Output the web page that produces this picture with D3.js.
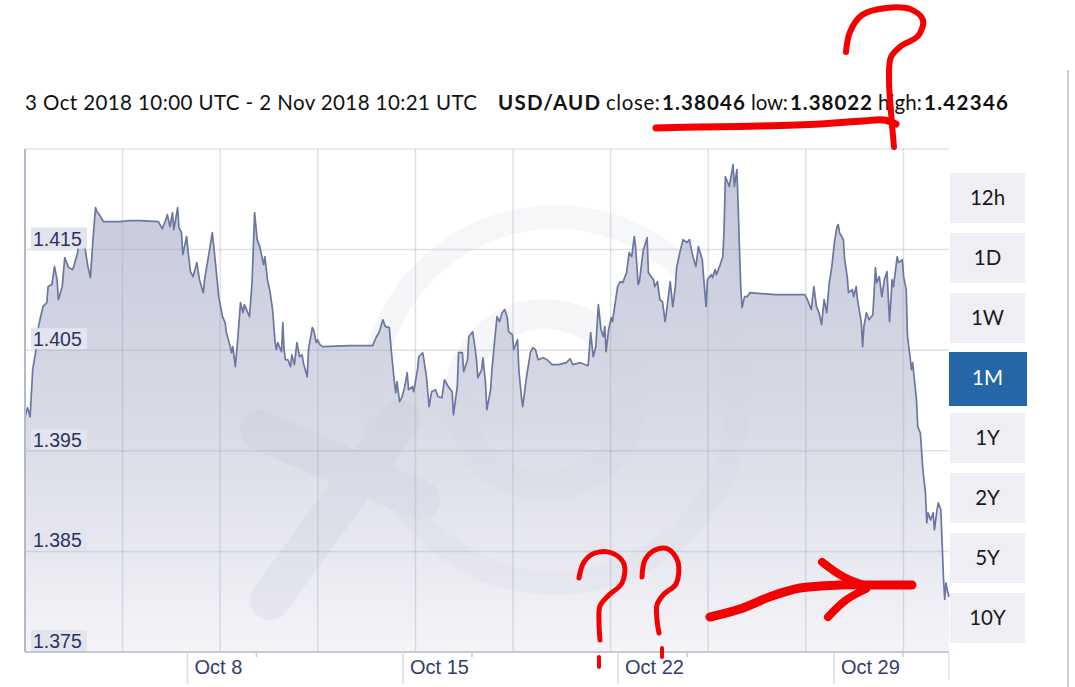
<!DOCTYPE html>
<html><head><meta charset="utf-8">
<script src="https://cdn.jsdelivr.net/npm/d3@7"></script>
<style>html,body{margin:0;padding:0;background:#fff;} svg{display:block;}</style>
</head><body>
<svg id="chart" width="1075" height="687"></svg>
<script>
// ---------- DATA ----------
const startUTC = "2018-10-03T10:00:00Z";
const endUTC = "2018-11-02T10:21:00Z";
const pairLabel = "USD/AUD";
const closeValue = "1.38046", lowValue = "1.38022", highValue = "1.42346";
const rangeLabel = "3 Oct 2018 10:00 UTC - 2 Nov 2018 10:21 UTC";

// hours elapsed since startUTC
const hoursFromStart = [0,1,2,4,6,9,10,12,14,17,18,21,23,25,26,29,31,34,37,38,41,42,44,47,49,51,53,55,56,58,61,74,82,90,104,107,109,111,113,115,116,119,120,122,123,126,127,129,131,134,136,139,140,143,146,147,150,151,154,156,157,160,161,162,164,166,168,170,171,175,177,179,181,183,186,187,189,191,193,195,196,197,200,201,202,203,205,207,208,210,212,214,216,217,220,221,224,225,227,228,230,232,253,271,274,276,279,281,284,286,288,289,290,292,294,296,298,299,302,303,306,307,310,311,313,315,317,320,322,325,327,330,333,334,337,338,341,342,345,346,349,351,352,353,356,357,359,360,363,364,366,368,370,372,374,376,377,380,381,384,385,387,388,391,394,396,398,400,404,407,411,416,422,425,427,433,439,441,443,445,447,449,451,452,453,455,457,458,462,464,466,469,471,473,475,476,478,479,482,483,485,486,490,491,493,495,497,499,500,503,505,507,508,511,513,516,518,520,521,523,525,528,529,531,532,535,536,538,539,542,544,545,546,549,551,552,553,555,556,557,558,559,561,563,565,585,608,610,613,615,617,619,621,623,625,627,629,631,633,634,635,638,639,641,642,645,646,648,649,652,653,654,656,658,661,663,664,666,668,670,672,674,676,677,680,681,684,685,687,688,690,691,692,695,696,698,700,702,703,704,706,708,709,711,712,714,716,717,718,719,720.35];
const rates = [1.39828,1.39888,1.39928,1.39838,1.40306,1.40535,1.40704,1.40823,1.40933,1.40973,1.41132,1.41152,1.41331,1.41201,1.41002,1.41132,1.4142,1.41321,1.41301,1.41331,1.4147,1.4158,1.41599,1.415,1.41331,1.41221,1.41599,1.41918,1.41878,1.41848,1.41779,1.41779,1.41789,1.41789,1.41779,1.41709,1.41769,1.41848,1.41729,1.41868,1.41699,1.41918,1.41719,1.41669,1.4145,1.41629,1.415,1.41281,1.41231,1.41371,1.41201,1.41072,1.41201,1.4143,1.41669,1.4155,1.41172,1.41032,1.40833,1.40774,1.40674,1.40535,1.40475,1.40535,1.40336,1.40634,1.40973,1.40873,1.40953,1.40833,1.41172,1.41868,1.41599,1.4153,1.41351,1.4143,1.41201,1.41082,1.40903,1.40575,1.40505,1.40575,1.40485,1.40774,1.40505,1.40405,1.40405,1.40336,1.40455,1.40356,1.40575,1.40435,1.40455,1.40376,1.40236,1.40505,1.40724,1.40704,1.40575,1.40604,1.40555,1.40535,1.40545,1.40545,1.40634,1.40674,1.40803,1.40734,1.40724,1.40435,1.40177,1.40077,1.40187,1.39988,1.40037,1.40137,1.40276,1.40107,1.40137,1.40087,1.40306,1.40435,1.40475,1.40405,1.40236,1.39938,1.40087,1.40107,1.40037,1.40027,1.40206,1.40137,1.40087,1.39858,1.40137,1.40475,1.40475,1.40286,1.40405,1.40634,1.40684,1.40505,1.40405,1.40226,1.40306,1.40425,1.40177,1.39908,1.40107,1.40306,1.40575,1.40833,1.40784,1.40873,1.40903,1.40823,1.40684,1.40654,1.40505,1.40604,1.40306,1.40037,1.39938,1.40236,1.40475,1.40525,1.40505,1.40405,1.40425,1.40405,1.40356,1.40356,1.40376,1.40415,1.40356,1.40376,1.40346,1.40674,1.40435,1.40535,1.40953,1.40704,1.40634,1.40734,1.40485,1.40704,1.40823,1.40784,1.41132,1.41182,1.41172,1.41271,1.4147,1.4143,1.41629,1.4153,1.41152,1.41182,1.415,1.4153,1.41619,1.41271,1.41201,1.41132,1.41182,1.41002,1.40983,1.40784,1.40873,1.41182,1.40933,1.41132,1.41321,1.415,1.41599,1.4157,1.41599,1.4147,1.4142,1.41331,1.4153,1.414,1.41231,1.40933,1.41201,1.41251,1.41221,1.41301,1.41251,1.41351,1.4143,1.41699,1.42226,1.42127,1.42266,1.42346,1.42127,1.42296,1.41928,1.415,1.41132,1.40923,1.41032,1.41032,1.41072,1.41052,1.41052,1.41002,1.40903,1.41132,1.40933,1.40873,1.40754,1.41002,1.40873,1.41172,1.41331,1.4157,1.41729,1.41749,1.41669,1.41599,1.414,1.41231,1.41072,1.41102,1.41032,1.41132,1.41002,1.40774,1.40535,1.40734,1.40873,1.40803,1.40853,1.41321,1.41172,1.41231,1.41032,1.41201,1.41281,1.40784,1.41201,1.41132,1.4143,1.41371,1.414,1.41231,1.41102,1.40634,1.40435,1.40306,1.40376,1.40007,1.39739,1.39679,1.39311,1.39082,1.38784,1.38883,1.38813,1.38883,1.38714,1.38913,1.38983,1.38913,1.38246,1.38022,1.38187,1.38117,1.38046];

const yTickValues = [1.375, 1.385, 1.395, 1.405, 1.415];
const yTickLabels = ["1.375", "1.385", "1.395", "1.405", "1.415"];
const yGridValues = [1.385, 1.395, 1.405, 1.415];
const xTickDates = ["2018-10-08T16:40:00Z", "2018-10-15T16:40:00Z", "2018-10-22T16:20:00Z", "2018-10-29T16:40:00Z"];
const xTickLabels = ["Oct 8", "Oct 15", "Oct 22", "Oct 29"];
const periodButtons = ["12h", "1D", "1W", "1M", "1Y", "2Y", "5Y", "10Y"];
const selectedPeriod = "1M";

// ---------- CHART ----------
const svg = d3.select("#chart");
const start = new Date(startUTC), end = new Date(endUTC);
const data = hoursFromStart.map((h, i) => ({ t: new Date(start.getTime() + h * 3600e3), v: rates[i] }));

const L = 25, R = 949, T = 149, B = 652;
const x = d3.scaleUtc().domain([start, end]).range([L, R]);
const y = d3.scaleLinear().domain([1.375, 1.425]).range([B, T]);

const defs = svg.append("defs");
const grad = defs.append("linearGradient").attr("id", "areaGrad")
  .attr("gradientUnits", "userSpaceOnUse").attr("x1", 0).attr("x2", 0).attr("y1", 160).attr("y2", B);
grad.append("stop").attr("offset", "0").attr("stop-color", "#c4c8da");
grad.append("stop").attr("offset", "0.55").attr("stop-color", "#d9dbe6");
grad.append("stop").attr("offset", "1").attr("stop-color", "#f4f4f8");
defs.append("clipPath").attr("id", "plotClip").append("rect")
  .attr("x", L).attr("y", T).attr("width", R - L).attr("height", B - T);

// area
svg.append("path").datum(data)
  .attr("fill", "url(#areaGrad)")
  .attr("d", d3.area().x(d => x(d.t)).y0(B).y1(d => y(d.v)));

// faint "xe" watermark
const wm = svg.append("g").attr("clip-path", "url(#plotClip)").attr("opacity", 0.2);
wm.append("circle").attr("cx", 555).attr("cy", 400).attr("r", 183)
  .attr("fill", "none").attr("stroke", "#d3d5e0").attr("stroke-width", 24);
wm.append("circle").attr("cx", 545).attr("cy", 400).attr("r", 86)
  .attr("fill", "none").attr("stroke", "#d3d5e0").attr("stroke-width", 30);
wm.append("line").attr("x1", 460).attr("x2", 630).attr("y1", 412).attr("y2", 412)
  .attr("stroke", "#d3d5e0").attr("stroke-width", 22);
wm.append("line").attr("x1", 260).attr("x2", 420).attr("y1", 430).attr("y2", 500)
  .attr("stroke", "#c2c5d4").attr("stroke-width", 40).attr("stroke-linecap", "round");
wm.append("line").attr("x1", 270).attr("x2", 400).attr("y1", 600).attr("y2", 420)
  .attr("stroke", "#c2c5d4").attr("stroke-width", 40).attr("stroke-linecap", "round");

// grid
const gridColor = "rgba(160,163,180,0.32)";
svg.append("g").selectAll("line").data(yGridValues.concat([1.425])).join("line")
  .attr("x1", L).attr("x2", R).attr("y1", d => y(d)).attr("y2", d => y(d))
  .attr("stroke", gridColor).attr("stroke-width", 1.5);
const gridStep = 97.6;
svg.append("g").selectAll("line").data(d3.range(1, 10)).join("line")
  .attr("x1", k => L + k * gridStep).attr("x2", k => L + k * gridStep)
  .attr("y1", T).attr("y2", B)
  .attr("stroke", gridColor).attr("stroke-width", 1.5);

// line
svg.append("path").datum(data)
  .attr("fill", "none").attr("stroke", "#6b77a0").attr("stroke-width", 1.7)
  .attr("stroke-linejoin", "round")
  .attr("d", d3.line().x(d => x(d.t)).y(d => y(d.v)));

// frame
svg.append("line").attr("x1", L).attr("x2", L).attr("y1", T).attr("y2", B)
  .attr("stroke", "#b4b9cc").attr("stroke-width", 2);
svg.append("line").attr("x1", L).attr("x2", R).attr("y1", B).attr("y2", B)
  .attr("stroke", "#c6c8d4").attr("stroke-width", 2);

// y labels
const yl = svg.append("g").selectAll("g").data(yTickValues).join("g");
yl.append("rect").attr("x", 31).attr("y", d => y(d) - 22).attr("width", 56).attr("height", 21)
  .attr("fill", "#e3e4ee");
yl.append("text").attr("x", 33).attr("y", d => y(d) - 4)
  .attr("font-family", "Liberation Sans, Arial, sans-serif").attr("font-size", 19.5)
  .attr("fill", "#2c3363").text((d, i) => yTickLabels[i]);

// x axis ticks & labels
const xt = svg.append("g").selectAll("g").data(xTickDates).join("g");
xt.append("line").attr("x1", d => x(new Date(d))).attr("x2", d => x(new Date(d)))
  .attr("y1", B).attr("y2", 684).attr("stroke", "#dadbe2").attr("stroke-width", 1.5);
xt.append("line").attr("x1", d => x(new Date(d)) + 69).attr("x2", d => x(new Date(d)) + 69)
  .attr("y1", B).attr("y2", 657).attr("stroke", "#c6c8d4").attr("stroke-width", 1.5);
xt.append("text").attr("x", d => x(new Date(d)) + 7).attr("y", 674)
  .attr("font-family", "Liberation Sans, Arial, sans-serif").attr("font-size", 20)
  .attr("fill", "#363d6b").text((d, i) => xTickLabels[i]);
svg.append("line").attr("x1", R).attr("x2", R).attr("y1", B).attr("y2", 680)
  .attr("stroke", "#e2e3e8").attr("stroke-width", 1.5);

// header
const hdr = [
  { t: rangeLabel, x: 25, w: 452, b: false },
  { t: pairLabel, x: 498, w: 102, b: true },
  { t: "close:", x: 606, w: 54, b: false },
  { t: closeValue, x: 662, w: 83, b: true },
  { t: "low:", x: 751, w: 37, b: false },
  { t: lowValue, x: 790, w: 82, b: true },
  { t: "high:", x: 878, w: 44, b: false },
  { t: highValue, x: 924, w: 84, b: true }
];
svg.append("g").selectAll("text").data(hdr).join("text")
  .attr("x", d => d.x).attr("y", 110)
  .attr("font-family", "Lato, sans-serif").attr("font-size", 20.5)
  .attr("font-weight", d => d.b ? 700 : 400).attr("fill", "#111")
  .attr("textLength", d => d.w).attr("lengthAdjust", "spacing")
  .text(d => d.t);

// buttons
const btn = svg.append("g").selectAll("g").data(periodButtons).join("g");
btn.append("rect")
  .attr("x", d => d === selectedPeriod ? 949 : 950)
  .attr("y", (d, i) => 173 + i * 60 - (d === selectedPeriod ? 1 : 0))
  .attr("width", d => d === selectedPeriod ? 78 : 75)
  .attr("height", d => d === selectedPeriod ? 54 : 50)
  .attr("fill", d => d === selectedPeriod ? "#2566a6" : "#eeeef4");
btn.append("text").attr("x", 987.5).attr("y", (d, i) => 173 + i * 60 + 32)
  .attr("text-anchor", "middle").attr("font-family", "Lato, sans-serif").attr("font-size", 20.5)
  .attr("fill", d => d === selectedPeriod ? "#fff" : "#1a1a1a").text(d => d);

// right panel edge
svg.append("line").attr("x1", 1068).attr("x2", 1068).attr("y1", 70).attr("y2", 687)
  .attr("stroke", "#cfcfcf").attr("stroke-width", 2);

// ---------- hand-drawn red annotations ----------
const red = "#f50000";
const pen = d3.line().curve(d3.curveCatmullRom.alpha(0.5));
const marks = [
  { w: 6, p: [[846,52],[850,32],[862,15],[886,8],[910,9],[923,20],[918,36],[901,46],[891,57],[889,80],[891,112],[894,147]] },
  { w: 7, p: [[656,128],[700,127],[760,126],[820,124],[862,121],[884,120],[896,124]] },
  { w: 5, p: [[579,578],[584,562],[595,553],[612,553],[624,564],[622,583],[608,596],[600,606],[599,622],[600,640]] },
  { w: 4, p: [[599,657],[599,667]] },
  { w: 5, p: [[642,577],[645,560],[655,550],[668,549],[678,562],[676,584],[664,594],[657,605],[657,620],[659,633]] },
  { w: 4, p: [[662,648],[662,657]] },
  { w: 9, p: [[710,617],[740,609],[772,596],[800,588],[840,585],[880,585],[912,585]] },
  { w: 8, p: [[822,562],[842,576],[866,586]] },
  { w: 8, p: [[828,617],[846,600],[866,589]] }
];
svg.append("g").selectAll("path").data(marks).join("path")
  .attr("d", d => pen(d.p)).attr("fill", "none").attr("stroke", red)
  .attr("stroke-width", d => d.w).attr("stroke-linecap", "round").attr("stroke-linejoin", "round");
</script>
</body></html>
